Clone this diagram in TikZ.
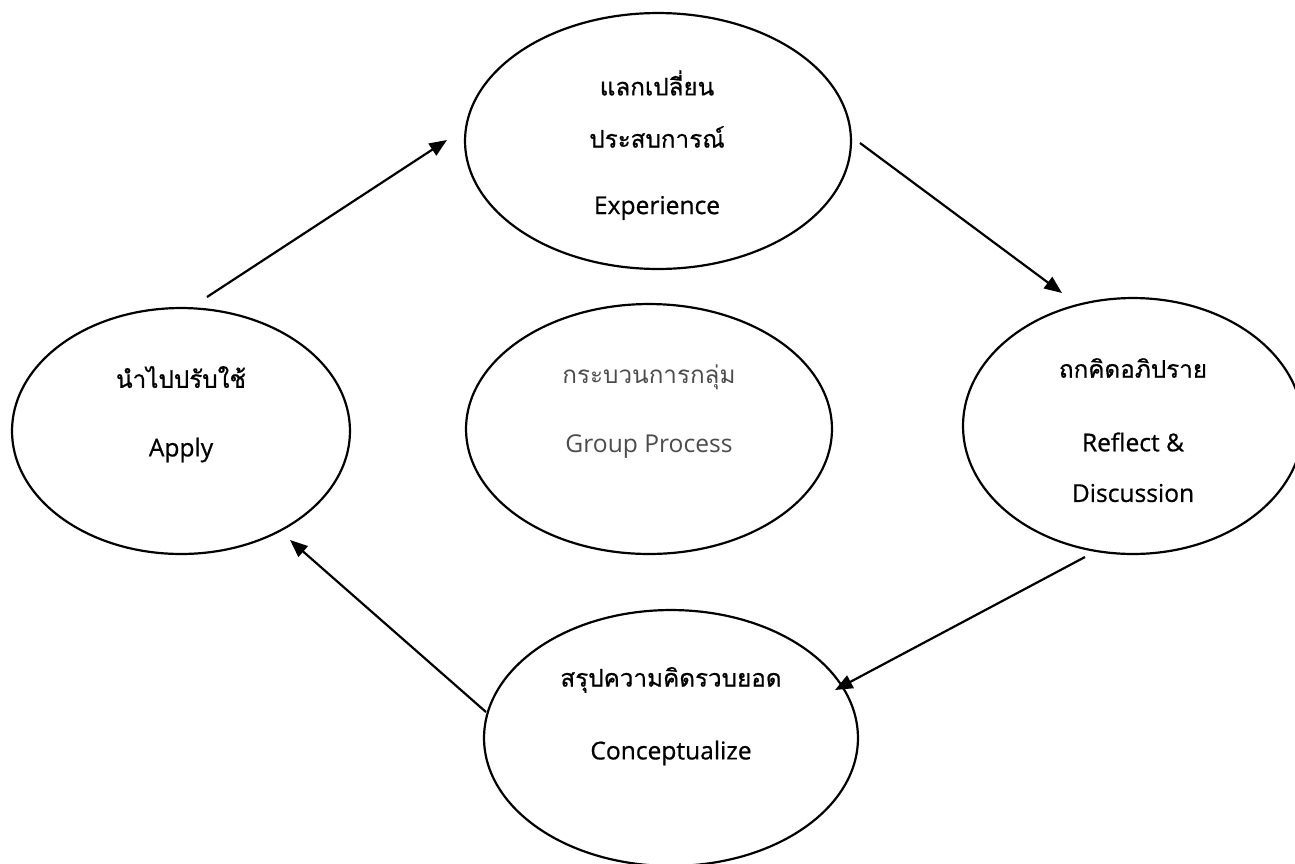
\documentclass[tikz,border=0pt]{standalone}
\usepackage{fontspec}
\setmainfont{Open Sans}
\newfontfamily\thaifont[Script=Thai,FakeBold=0.7]{Loma}
\newfontfamily\enfont[FakeBold=0.7]{Open Sans}
\newfontfamily\thaithin[Script=Thai]{Loma}
\usetikzlibrary{shapes.geometric,arrows.meta}

\begin{document}
\begin{tikzpicture}[x=0.02cm,y=-0.02cm,
  stage/.style={draw, line width=1.25pt, ellipse, inner sep=0pt},
  th/.style={font=\thaifont\fontsize{13.8}{16}\selectfont, inner sep=0pt},
  en/.style={font=\enfont\fontsize{14}{16}\selectfont, inner sep=0pt},
  thsoft/.style={font=\thaithin\fontsize{13.8}{16}\selectfont, inner sep=0pt, text=black!70},
  ensoft/.style={font=\fontsize{14}{16}\selectfont, inner sep=0pt, text=black!70},
  flow/.style={line width=1.25pt, -{Triangle[length=10pt,width=8pt]}}]

\useasboundingbox (0,0) rectangle (1295,863);

% the five stages of the cycle
\node[stage, minimum width=7.72cm, minimum height=5.12cm] (share)   at (658,141) {};
\node[stage, minimum width=6.76cm, minimum height=4.92cm] (apply)   at (181,431) {};
\node[stage, minimum width=6.80cm, minimum height=5.12cm] (reflect) at (1133,426) {};
\node[stage, minimum width=7.48cm, minimum height=5.12cm] (concept) at (671,738) {};
\node[stage, minimum width=7.32cm, minimum height=5.00cm] (group)   at (649,429) {};

% labels
\node[th] (shareA) at (657,83)  {แลกเปลี่ยน};
\node[th] (shareB) at (657,137) {ประสบการณ์};
\node[en] (shareC) at (657,208) {Experience};

\node[th] (applyA) at (181,377) {นำไปปรับใช้};
\node[en] (applyB) at (181,450) {Apply};

\node[th] (reflectA) at (1133,368) {ถกคิดอภิปราย};
\node[en] (reflectB) at (1133,442) {Reflect \&};
\node[en] (reflectC) at (1133,493) {Discussion};

\node[thsoft] (groupA) at (649,377) {กระบวนการกลุ่ม};
\node[ensoft] (groupB) at (649,447) {Group Process};

\node[th] (conceptA) at (671,680) {สรุปความคิดรวบยอด};
\node[en] (conceptB) at (671,753) {Conceptualize};

% connector ends, just off the ellipses
\coordinate (applyOut)   at (207,297);
\coordinate (shareIn)    at (447,140);
\coordinate (shareOut)   at (860,143);
\coordinate (reflectIn)  at (1062,293);
\coordinate (reflectOut) at (1085,557);
\coordinate (conceptIn)  at (835,690);
\coordinate (conceptOut) at (486,712);
\coordinate (applyIn)    at (290,540);

\draw[flow] (applyOut)   -- (shareIn);
\draw[flow] (shareOut)   -- (reflectIn);
\draw[flow] (reflectOut) -- (conceptIn);
\draw[flow] (conceptOut) -- (applyIn);
\end{tikzpicture}
\end{document}
